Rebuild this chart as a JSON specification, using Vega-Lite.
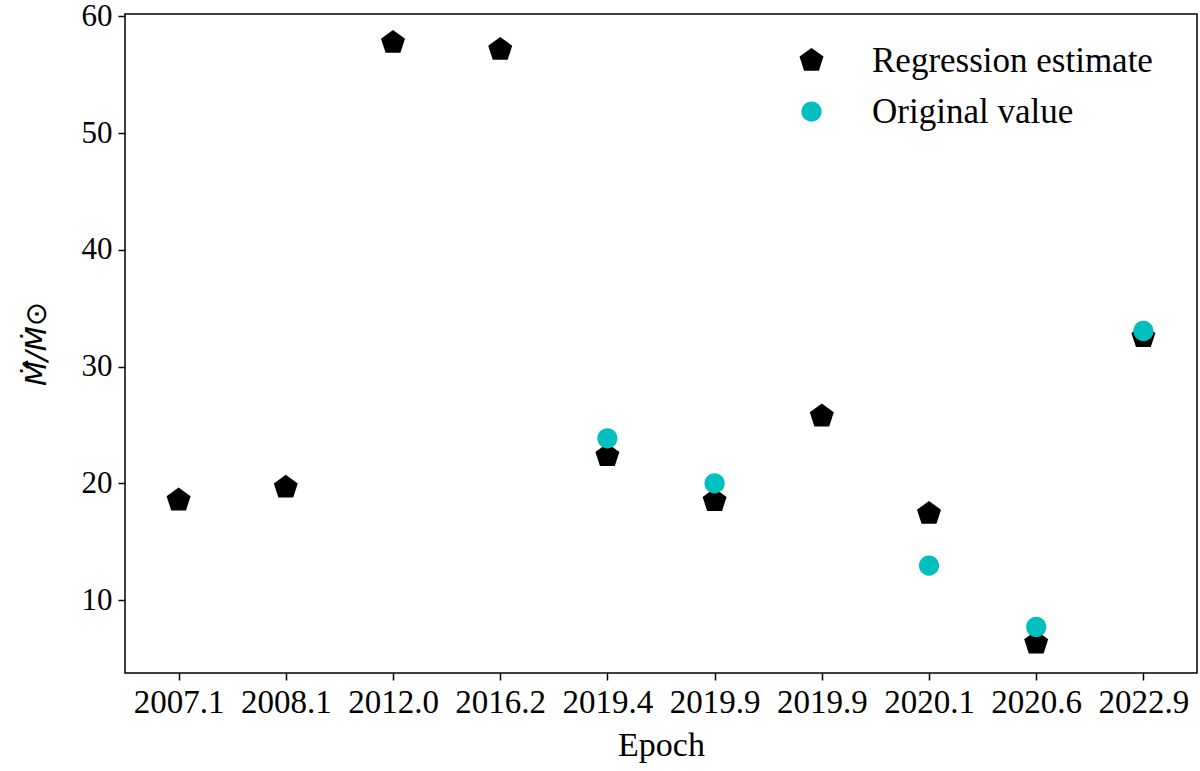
{
  "$schema": "https://vega.github.io/schema/vega-lite/v6.json",
  "autosize": "none",
  "padding": {"left": 125, "top": 14, "right": 3, "bottom": 98},
  "width": 1072,
  "height": 659,
  "background": "white",
  "config": {
    "view": {"stroke": "black", "strokeWidth": 1.5},
    "font": "Liberation Serif",
    "axis": {
      "domain": false,
      "grid": false,
      "ticks": true,
      "tickColor": "black",
      "tickWidth": 1.5,
      "tickSize": 7,
      "labelColor": "black",
      "titleColor": "black",
      "labelFont": "Liberation Serif",
      "titleFont": "Liberation Serif",
      "titleFontWeight": "normal"
    }
  },
  "data": {
    "values": [
      {"key": "2007.1#0", "series": "Regression estimate", "value": 18.55},
      {"key": "2008.1#1", "series": "Regression estimate", "value": 19.65},
      {"key": "2012.0#2", "series": "Regression estimate", "value": 57.75},
      {"key": "2016.2#3", "series": "Regression estimate", "value": 57.15},
      {"key": "2019.4#4", "series": "Regression estimate", "value": 22.35},
      {"key": "2019.9#5", "series": "Regression estimate", "value": 18.5},
      {"key": "2019.9#6", "series": "Regression estimate", "value": 25.75},
      {"key": "2020.1#7", "series": "Regression estimate", "value": 17.4},
      {"key": "2020.6#8", "series": "Regression estimate", "value": 6.3},
      {"key": "2022.9#9", "series": "Regression estimate", "value": 32.55},
      {"key": "2019.4#4", "series": "Original value", "value": 23.85},
      {"key": "2019.9#5", "series": "Original value", "value": 20.0},
      {"key": "2020.1#7", "series": "Original value", "value": 12.95},
      {"key": "2020.6#8", "series": "Original value", "value": 7.7},
      {"key": "2022.9#9", "series": "Original value", "value": 33.05}
    ]
  },
  "mark": {"type": "point", "filled": true, "opacity": 1, "size": 637},
  "encoding": {
    "x": {
      "field": "key",
      "type": "nominal",
      "sort": null,
      "scale": {"type": "point", "padding": 0.5},
      "axis": {
        "title": "Epoch",
        "labelExpr": "split(datum.label, '#')[0]",
        "labelAngle": 0,
        "labelFontSize": 33,
        "labelPadding": 6,
        "titleFontSize": 34,
        "titlePadding": 9
      }
    },
    "y": {
      "field": "value",
      "type": "quantitative",
      "scale": {"domain": [3.75, 60.2], "nice": false, "zero": false},
      "axis": {
        "values": [10, 20, 30, 40, 50, 60],
        "title": "M\u0307\u0302/M\u0307\u2299",
        "titleFont": "DejaVu Sans",
        "titleFontStyle": "italic",
        "titleFontSize": 29,
        "titlePadding": 30,
        "labelFontSize": 31,
        "labelPadding": 6
      }
    },
    "color": {
      "field": "series",
      "type": "nominal",
      "scale": {"domain": ["Regression estimate", "Original value"], "range": ["#000000", "#00BFBF"]},
      "legend": {
        "title": null,
        "orient": "none",
        "legendX": 669,
        "legendY": 29,
        "padding": 0,
        "labelFontSize": 35,
        "labelFont": "Liberation Serif",
        "labelColor": "black",
        "labelLimit": 0,
        "labelOffset": 43,
        "symbolSize": 637,
        "symbolOpacity": 1,
        "symbolStrokeWidth": 0,
        "rowPadding": 15
      }
    },
    "shape": {
      "field": "series",
      "type": "nominal",
      "scale": {
        "domain": ["Regression estimate", "Original value"],
        "range": [
          "M 0 -1 L 0.951 -0.309 L 0.588 0.809 L -0.588 0.809 L -0.951 -0.309 Z",
          "M -0.8 0 A 0.8 0.8 0 1 0 0.8 0 A 0.8 0.8 0 1 0 -0.8 0 Z"
        ]
      }
    }
  }
}
